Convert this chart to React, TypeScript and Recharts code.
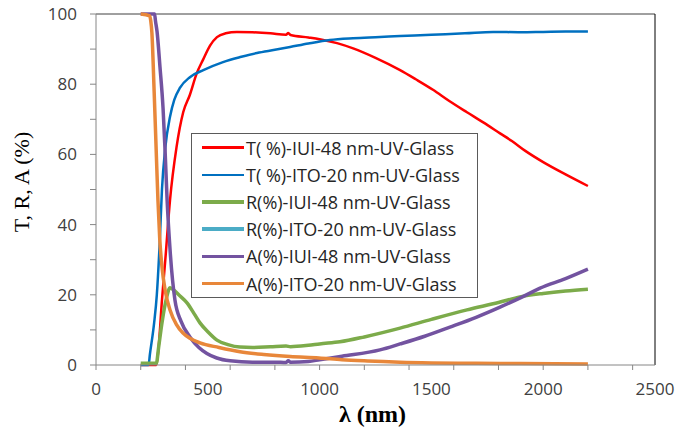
import { LineChart, Line, XAxis, YAxis, Legend, ReferenceLine, Label } from 'recharts';

// Optical spectra, [wavelength nm, percent]
const tIui48 = [
  [200, 0], [270, 0], [280, 5], [295, 18.5], [310, 30], [331, 47], [360, 62], [390, 72],
  [420, 77], [450, 83], [479, 87], [510, 91], [541, 93.4], [580, 94.5], [630, 94.9],
  [700, 94.8], [780, 94.5], [850, 94.1], [860, 94.6], [870, 94.0], [950, 93.3], [1000, 92.8],
  [1078, 91.7], [1150, 90.2], [1250, 87.5], [1360, 84], [1430, 81.4], [1507, 78.4],
  [1580, 75.2], [1659, 72], [1730, 69.2], [1807, 66], [1860, 63.8], [1920, 61],
  [2000, 57.8], [2100, 54.3], [2200, 51],
];
const tIto20 = [
  [200, 0], [235, 0], [241, 3], [260, 12], [272, 20], [285, 35], [295, 50], [310, 62],
  [331, 70.7], [350, 75.5], [376, 79], [420, 82], [480, 84], [568, 86.3], [650, 87.8],
  [720, 88.9], [800, 89.8], [868, 90.6], [950, 91.6], [1046, 92.6], [1150, 93.1],
  [1250, 93.4], [1360, 93.7], [1500, 94.1], [1650, 94.5], [1776, 94.9], [1900, 94.8],
  [2000, 94.9], [2100, 95], [2200, 95],
];
const rIui48 = [
  [200, 0.5], [270, 0.5], [280, 5], [295, 12], [315, 19], [331, 22], [345, 21.5], [370, 20],
  [407, 17.7], [440, 14.5], [465, 12], [500, 9.5], [541, 7.1], [590, 5.8], [644, 5.1],
  [700, 5], [780, 5.2], [850, 5.4], [870, 5.2], [950, 5.6], [1000, 6], [1091, 6.6],
  [1200, 8], [1360, 10.5], [1500, 13], [1659, 15.7], [1800, 17.8], [1896, 19.4],
  [2000, 20.4], [2100, 21.1], [2200, 21.6],
];
const rIto20: number[][] = [];
const aIui48 = [
  [200, 100], [262, 100], [266, 98], [273, 95], [286, 85], [300, 73], [309, 61], [318, 47],
  [331, 33], [353, 18.5], [380, 12.5], [420, 8], [460, 5], [496, 3.3], [540, 2],
  [600, 1.2], [700, 0.8], [800, 0.8], [850, 0.7], [860, 1.2], [870, 0.8], [950, 1],
  [1000, 1.5], [1100, 2.5], [1270, 4.3], [1360, 6], [1470, 8.2], [1583, 10.8],
  [1700, 13.6], [1807, 16.5], [1900, 19.2], [1986, 21.9], [2100, 24.6], [2200, 27.3],
];
const aIto20 = [
  [200, 100], [240, 99.5], [245, 98], [250, 94.6], [260, 78], [272, 56], [277, 47],
  [285, 36], [295, 28], [310, 21], [331, 15.7], [360, 11.5], [389, 9.1], [420, 7.6],
  [465, 6.3], [550, 5], [644, 3.8], [750, 3], [868, 2.4], [997, 2], [1100, 1.5],
  [1250, 1.1], [1360, 0.8], [1500, 0.6], [1700, 0.5], [1900, 0.4], [2200, 0.3],
];

const xTicks = [0, 200, 400, 500, 600, 800, 1000, 1200, 1400, 1500, 1600, 1800, 2000, 2200, 2400, 2500];
const yTicks = [0, 10, 20, 30, 40, 50, 60, 70, 80, 90, 100];

const series = [
  { name: 'T( %)-IUI-48 nm-UV-Glass', points: tIui48, color: '#ff0000', width: 2.5 },
  { name: 'T( %)-ITO-20 nm-UV-Glass', points: tIto20, color: '#0070c0', width: 2.5 },
  { name: 'R(%)-IUI-48 nm-UV-Glass', points: rIui48, color: '#7cab4a', width: 3.5 },
  { name: 'R(%)-ITO-20 nm-UV-Glass', points: rIto20, color: '#4bacc6', width: 3.5 },
  { name: 'A(%)-IUI-48 nm-UV-Glass', points: aIui48, color: '#7353a0', width: 3.5 },
  { name: 'A(%)-ITO-20 nm-UV-Glass', points: aIto20, color: '#e8873a', width: 3.5 },
];

const tickFont = { fontFamily: 'Open Sans', fontSize: 17, fill: '#404040' };

function XTick({ x, y, payload }: any) {
  const v = payload.value;
  return (
    <g>
      {v % 200 === 0 && <line x1={x} x2={x} y1={y} y2={y + 5} stroke="#868686" />}
      {v % 500 === 0 && (
        <text x={x} y={y + 30} textAnchor="middle" {...tickFont}>{v}</text>
      )}
    </g>
  );
}

function YTick({ x, y, payload }: any) {
  const v = payload.value;
  return (
    <g>
      <line x1={x - 6} x2={x} y1={y} y2={y} stroke="#868686" />
      {v % 20 === 0 && (
        <text x={x - 19} y={y + 6} textAnchor="end" {...tickFont}>{v}</text>
      )}
    </g>
  );
}

function LegendBox({ payload }: any) {
  // keep the legend rows in series order
  const rows = [...(payload || [])].sort(
    (a: any, b: any) =>
      series.findIndex((s) => s.name === a.value) - series.findIndex((s) => s.name === b.value)
  );
  return (
    <div
      style={{
        width: 287,
        height: 165,
        border: '1px solid #5a5a5a',
        background: '#fff',
        boxSizing: 'border-box',
        paddingLeft: 10,
      }}
    >
      {rows.map((p: any) => {
        const s = series.find((d) => d.name === p.value);
        return (
          <div key={p.value} style={{ display: 'flex', alignItems: 'center', height: 27.2 }}>
            <span
              style={{
                display: 'inline-block',
                width: 42,
                height: s ? s.width : 3,
                background: p.color,
                marginRight: 2,
              }}
            />
            <span style={{ fontFamily: 'Open Sans', fontSize: 18, color: '#262626', whiteSpace: 'nowrap' }}>
              {p.value}
            </span>
          </div>
        );
      })}
    </div>
  );
}

export default function App() {
  return (
    <div style={{ position: 'absolute', left: 0, top: 0 }}>
      <LineChart width={677} height={434} margin={{ top: 14, right: 22, bottom: 39, left: 36 }}>
        <XAxis
          type="number"
          dataKey="x"
          domain={[0, 2500]}
          ticks={xTicks}
          interval={0}
          tickSize={0}
          tickMargin={0}
          tickLine={false}
          tick={<XTick />}
          height={30}
          stroke="#868686"
          allowDuplicatedCategory={false}
        >
          <Label
            content={({ viewBox }: any) => (
              <text
                x={viewBox.x + viewBox.width / 2 - 3}
                y={viewBox.y + 57}
                textAnchor="middle"
                fontFamily="'Times New Roman', 'Liberation Serif', serif"
                fontWeight="bold"
                fontSize={24}
                fill="#000"
              >
                λ (nm)
              </text>
            )}
          />
        </XAxis>
        <YAxis
          type="number"
          domain={[0, 100]}
          ticks={yTicks}
          interval={0}
          tickSize={0}
          tickMargin={0}
          tickLine={false}
          tick={<YTick />}
          width={60}
          stroke="#868686"
        >
          <Label
            content={({ viewBox }: any) => {
              const cx = viewBox.x - 15;
              const cy = viewBox.y + viewBox.height / 2 - 7.5;
              return (
                <text
                  x={cx}
                  y={cy}
                  transform={`rotate(-90 ${cx} ${cy})`}
                  textAnchor="middle"
                  dominantBaseline="central"
                  fontFamily="'Times New Roman', 'Liberation Serif', serif"
                  fontSize={22}
                  fill="#000"
                >
                  T, R, A (%)
                </text>
              );
            }}
          />
        </YAxis>
        <ReferenceLine y={100} stroke="#404040" strokeWidth={1} />
        <ReferenceLine x={2500} stroke="#000" strokeWidth={1} />
        {series.map((s) => (
          <Line
            key={s.name}
            name={s.name}
            data={s.points.map(([x, y]) => ({ x, y }))}
            dataKey="y"
            type="monotone"
            stroke={s.color}
            strokeWidth={s.width}
            dot={false}
            activeDot={false}
            isAnimationActive={false}
          />
        ))}
        <Legend
          layout="vertical"
          align="center"
          verticalAlign="middle"
          wrapperStyle={{ left: 191, top: 133, width: 287 }}
          content={<LegendBox />}
        />
      </LineChart>
    </div>
  );
}
